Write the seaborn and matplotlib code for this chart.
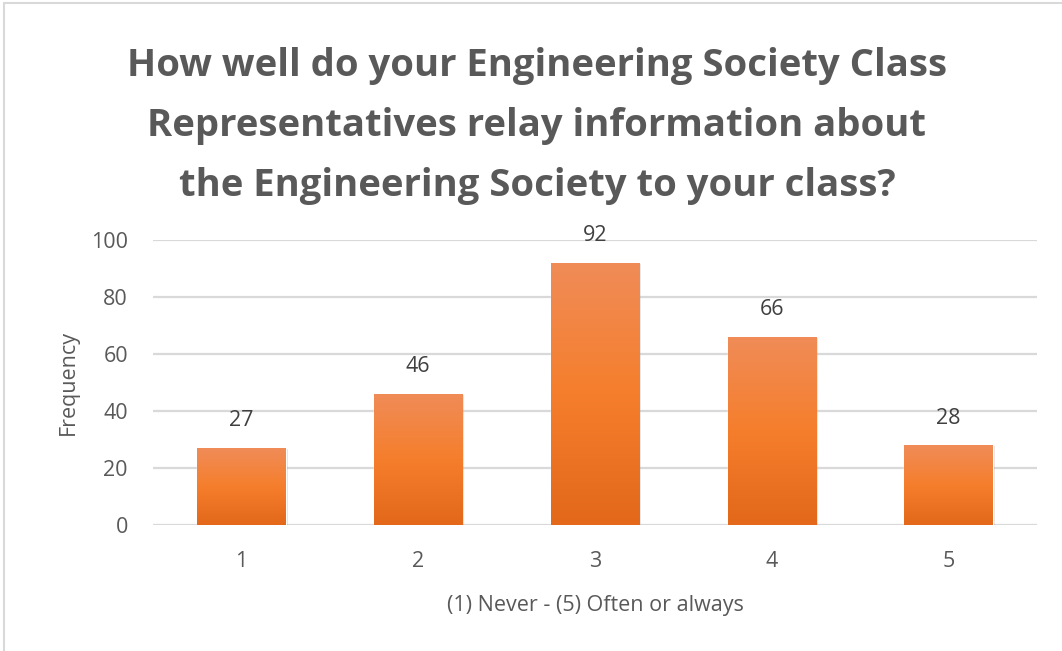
import numpy as np
import pandas as pd
import matplotlib
matplotlib.use("Agg")
import matplotlib.pyplot as plt
import matplotlib.patheffects as pe
from matplotlib.colors import LinearSegmentedColormap
from matplotlib.lines import Line2D
import seaborn as sns

# survey answers
ratings = ["1", "2", "3", "4", "5"]
counts = [27, 46, 92, 66, 28]
title = ("How well do your Engineering Society Class\n"
         "Representatives relay information about\n"
         "the Engineering Society to your class?")

sns.set_theme(style="white")
plt.rcParams['font.family'] = ['Open Sans', 'DejaVu Sans']

df = pd.DataFrame({"rating": ratings, "count": counts})

fig = plt.figure(figsize=(10.62, 6.51), dpi=100)
ax = fig.add_axes([0.144, 0.1935, 0.8325, 0.4378])

sns.barplot(data=df, x="rating", y="count", color="#F47C2A", width=0.5,
            ax=ax, zorder=3)

# gradient fill + soft shadow for each bar
grad = LinearSegmentedColormap.from_list("g", ["#E3681A", "#F57E2C", "#F08C58"])
for p in ax.patches:
    p.set_path_effects([pe.SimplePatchShadow(offset=(1.5, -0.5), shadow_rgbFace="#000000", alpha=0.12),
                        pe.Normal()])
    x0, y0 = p.get_x(), p.get_y()
    w, h = p.get_width(), p.get_height()
    im = ax.imshow(np.linspace(0, 1, 256).reshape(-1, 1), cmap=grad, aspect="auto",
                   origin="lower", extent=[x0, x0 + w, y0, y0 + h], zorder=4)
    im.set_clip_path(p)

ax.set_xlim(-0.5, 4.5)
ax.set_ylim(0, 100)
ax.set_yticks(range(0, 101, 20))
ax.yaxis.grid(True, color="#D9D9D9", linewidth=1.6, zorder=0)
ax.set_axisbelow(True)
for s in ax.spines.values():
    s.set_visible(False)

for i, v in enumerate(counts):
    ax.annotate(str(v), (i, v), xytext=(0, 12), textcoords="offset points",
                ha="center", va="bottom", fontsize=15.5, color="#404040", zorder=5)

ax.tick_params(axis="both", length=0, labelsize=15.5, labelcolor="#595959")
ax.tick_params(axis="x", pad=19)
ax.tick_params(axis="y", pad=18)
ax.set_xlabel("(1) Never - (5) Often or always", fontsize=15.5, color="#595959", labelpad=16)
ax.set_ylabel("Frequency", fontsize=15.5, color="#595959", labelpad=8.5)

fig.text(0.5055, 0.807, title, ha="center", va="center", fontsize=27.5,
         fontweight="bold", color="#595959", linespacing=1.76)

# chart frame
fig.add_artist(Line2D([4 / 1062, 1], [1 - 3 / 651, 1 - 3 / 651], color="#D9D9D9", lw=1.5))
fig.add_artist(Line2D([4 / 1062, 4 / 1062], [0, 1 - 3 / 651], color="#D9D9D9", lw=1.5))

fig.savefig("out.png", dpi=100, facecolor="white")
